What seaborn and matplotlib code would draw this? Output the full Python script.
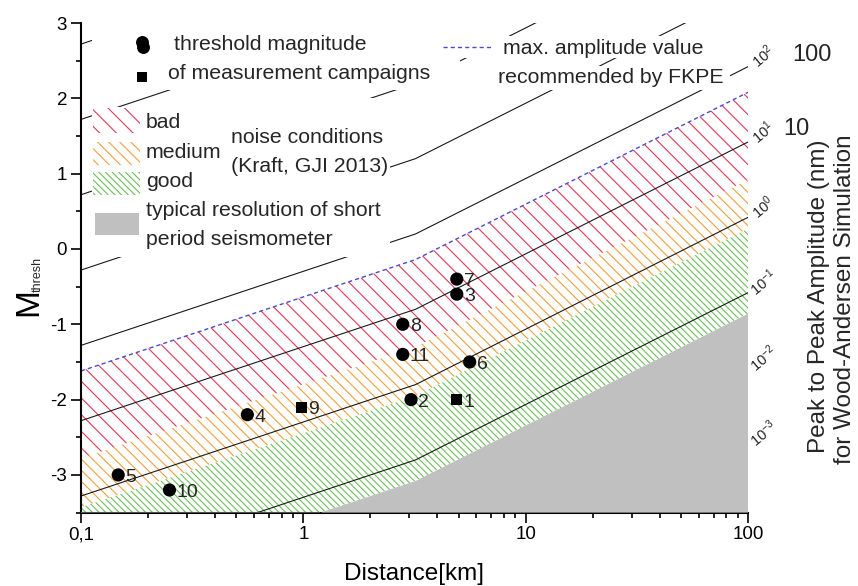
import matplotlib
matplotlib.use("Agg")
import matplotlib.pyplot as plt
from matplotlib.patches import Rectangle
from matplotlib.ticker import MultipleLocator, LogLocator, NullFormatter
import pandas as pd
import seaborn as sns

# Wood-Anderson distance correction: magnitude of a 1 nm peak-to-peak amplitude
dist_km = [0.1, 3.2, 100.0]
mag_1nm = [-3.28, -1.80, 0.42]

# amplitude isolines, log10 of peak-to-peak amplitude in nm
amp_exponents = [-3, -2, -1, 0, 1, 2, 3, 4, 5, 6]
labelled_exponents = [-3, -2, -1, 0, 1, 2]
plain_exponents = [2, 1]

# FKPE recommended maximum amplitude, log10(nm)
fkpe_max_log = 1.66
# noise conditions (Kraft, GJI 2013), log10(nm) ranges
noise_names = ["bad", "medium", "good"]
noise_low = [0.5, -0.15, -1.28]
noise_high = [1.66, 0.5, -0.15]
# typical resolution of a short period seismometer, log10(nm)
sp_resolution_log = -1.28

# threshold magnitudes of the measurement campaigns
campaign_id = ["1", "2", "3", "4", "5", "6", "7", "8", "9", "10", "11"]
campaign_dist = [4.9, 3.05, 4.9, 0.56, 0.147, 5.6, 4.9, 2.8, 0.98, 0.25, 2.8]
campaign_mag = [-2.0, -2.0, -0.6, -2.2, -3.0, -1.5, -0.4, -1.0, -2.1, -3.2, -1.4]
campaign_kind = ["square", "circle", "circle", "circle", "circle", "circle",
                 "circle", "circle", "square", "circle", "circle"]

x_ticks = [0.1, 1, 10, 100]
x_tick_labels = ["0,1", "1", "10", "100"]
y_ticks = [-3, -2, -1, 0, 1, 2, 3]
x_limits = (0.1, 100)
y_limits = (-3.5, 3)

noise_colors = {"bad": "#e0385a", "medium": "#f0a03c", "good": "#6cc05a"}
noise_hatches = {"bad": "\\\\", "medium": "\\\\\\", "good": "\\\\\\\\\\"}
gray = "#c0c0c0"

sns.set_theme(style="ticks")
plt.rcParams["font.family"] = ["Liberation Sans", "DejaVu Sans"]
plt.rcParams["mathtext.fontset"] = "custom"
plt.rcParams["mathtext.rm"] = "Liberation Sans"
plt.rcParams["axes.unicode_minus"] = False
plt.rcParams["hatch.linewidth"] = 0.8

W, H = 858, 586
fig = plt.figure(figsize=(W / 100, H / 100), dpi=100)
fig.patch.set_facecolor("white")
ax = fig.add_axes([81 / W, 1 - 512.6 / H, 667 / W, 489.6 / H])


def fx(px):
    return px / W


def fy(py):
    return 1 - py / H


ax.set_xscale("log")
ax.set_xlim(*x_limits)
ax.set_ylim(*y_limits)

# noise bands as hatched areas
for name, lo, hi in zip(noise_names, noise_low, noise_high):
    ax.fill_between(dist_km, [lo + m for m in mag_1nm], [hi + m for m in mag_1nm],
                    facecolor="none", edgecolor=noise_colors[name],
                    hatch=noise_hatches[name], linewidth=0, zorder=1)

# amplitude isolines
lines = pd.DataFrame(
    [(d, e + m, e) for e in amp_exponents for d, m in zip(dist_km, mag_1nm)],
    columns=["distance", "M", "exponent"],
)
sns.lineplot(data=lines, x="distance", y="M", units="exponent", estimator=None,
             sort=False, color="#1a1a1a", linewidth=0.8, legend=False, ax=ax,
             zorder=2)

# FKPE maximum amplitude
fkpe = pd.DataFrame({"distance": dist_km, "M": [fkpe_max_log + m for m in mag_1nm]})
sns.lineplot(data=fkpe, x="distance", y="M", color="#4b4bd0", linewidth=1.0,
             linestyle=(0, (3, 2.2)), legend=False, ax=ax, zorder=2.5)

# short period seismometer resolution
ax.fill_between(dist_km, y_limits[0], [sp_resolution_log + m for m in mag_1nm],
                facecolor=gray, edgecolor="none", linewidth=0, zorder=3)

# campaign thresholds
camp = pd.DataFrame({"distance": campaign_dist, "M": campaign_mag,
                     "kind": campaign_kind, "id": campaign_id})
sns.scatterplot(data=camp, x="distance", y="M", style="kind", size="kind",
                markers={"circle": "o", "square": "s"},
                sizes={"circle": 90, "square": 60}, color="black",
                edgecolor="none", legend=False, ax=ax, zorder=4)
for cid, d, m in zip(campaign_id, campaign_dist, campaign_mag):
    ax.annotate(cid, (d, m), xytext=(5, -5), textcoords="offset points",
                ha="left", va="baseline", fontsize=14, zorder=4)

# amplitude labels at the right edge
for e in labelled_exponents:
    ax.annotate(rf"$\mathregular{{10^{{{e}}}}}$", xy=(x_limits[1], e + mag_1nm[-1]),
                xytext=(10.8, 7.2), textcoords="offset points", rotation=40,
                ha="center", va="center", fontsize=10.5, annotation_clip=False)
for e, off in zip(plain_exponents, [(31.7, 8.6), (25.2, 9.4)]):
    ax.annotate(f"{10 ** e:g}", xy=(x_limits[1], e + mag_1nm[-1]), xytext=off,
                textcoords="offset points", ha="left", va="center",
                fontsize=17, annotation_clip=False)

# white backgrounds of the legend blocks
for x0, y0, x1, y1 in [(92, 23, 460, 90), (460, 36, 712, 58), (495, 66, 730, 90),
                       (92, 107, 228, 257), (228, 98, 390, 196), (140, 190, 390, 257)]:
    ax.add_patch(Rectangle((fx(x0), fy(y1)), fx(x1) - fx(x0), fy(y0) - fy(y1),
                           transform=fig.transFigure, facecolor="white",
                           edgecolor="none", zorder=5, clip_on=False))

# legend glyphs
ax.plot([fx(142), fx(143)], [fy(41.5), fy(46.5)], linestyle="none", marker="o",
        markersize=9.3, color="black", markeredgewidth=0,
        transform=fig.transFigure, zorder=6, clip_on=False)
ax.plot([fx(142)], [fy(77)], linestyle="none", marker="s", markersize=7.2,
        color="black", markeredgewidth=0, transform=fig.transFigure, zorder=6,
        clip_on=False)
ax.plot([fx(443), fx(492)], [fy(47), fy(47)], color="#4b4bd0", linewidth=1.0,
        linestyle=(0, (3, 2.2)), transform=fig.transFigure, zorder=6, clip_on=False)
for name, (y0, y1) in zip(noise_names, [(108, 133), (142, 165), (172, 195)]):
    ax.add_patch(Rectangle((fx(93), fy(y1)), fx(140) - fx(93), fy(y0) - fy(y1),
                           transform=fig.transFigure, facecolor="white",
                           edgecolor=noise_colors[name], hatch=noise_hatches[name],
                           linewidth=0, zorder=6, clip_on=False))
ax.add_patch(Rectangle((fx(95), fy(235)), fx(139) - fx(95), fy(213) - fy(235),
                       transform=fig.transFigure, facecolor=gray, edgecolor="none",
                       zorder=6, clip_on=False))

legend_texts = [
    (174, 50, "threshold magnitude"),
    (168, 79, "of measurement campaigns"),
    (146, 128, "bad"),
    (146, 158, "medium"),
    (146, 187, "good"),
    (146, 216, "typical resolution of short"),
    (146, 245, "period seismometer"),
    (231, 143, "noise conditions"),
    (231, 172, "(Kraft, GJI 2013)"),
    (503, 54, "max. amplitude value"),
    (498, 83, "recommended by FKPE"),
]
for px, py, s in legend_texts:
    ax.text(fx(px), fy(py), s, transform=fig.transFigure, fontsize=15.3,
            ha="left", va="baseline", zorder=7, clip_on=False)

# axes styling
sns.despine(ax=ax)
for side in ("left", "bottom"):
    ax.spines[side].set_linewidth(1.5)
    ax.spines[side].set_color("black")
ax.set_xticks(x_ticks, labels=x_tick_labels)
ax.xaxis.set_minor_locator(LogLocator(base=10, subs=[2, 3, 4, 5, 6, 7, 8, 9]))
ax.xaxis.set_minor_formatter(NullFormatter())
ax.set_yticks(y_ticks, labels=[str(v) for v in y_ticks])
ax.yaxis.set_minor_locator(MultipleLocator(0.5))
ax.tick_params(which="major", length=7, width=1.2, direction="out",
               labelsize=13.5, pad=3, color="black", labelcolor="black")
ax.tick_params(which="minor", length=3.8, width=1.2, direction="out", color="black")

ax.set_xlabel("Distance[km]", fontsize=17.5, color="black")
ax.xaxis.set_label_coords(0.5, (512.6 - 580) / 489.6)
ax.xaxis.label.set_va("baseline")

ax.set_ylabel("M", fontsize=24, color="black")
ax.yaxis.set_label_coords((37 - 81) / 667, (512.6 - 302.5) / 489.6)
ax.yaxis.label.set_va("baseline")
ax.text(fx(41), fy(274), "thresh", transform=fig.transFigure, fontsize=9,
        rotation=90, rotation_mode="anchor", ha="center", va="baseline",
        clip_on=False)

fig.text(fx(825), fy(296.5), "Peak to Peak Amplitude (nm)", fontsize=17.5,
         rotation=90, rotation_mode="anchor", ha="center", va="baseline")
fig.text(fx(851), fy(299), "for Wood-Andersen Simulation", fontsize=17.5,
         rotation=90, rotation_mode="anchor", ha="center", va="baseline")

fig.savefig("out.png", dpi=100, facecolor="white")
